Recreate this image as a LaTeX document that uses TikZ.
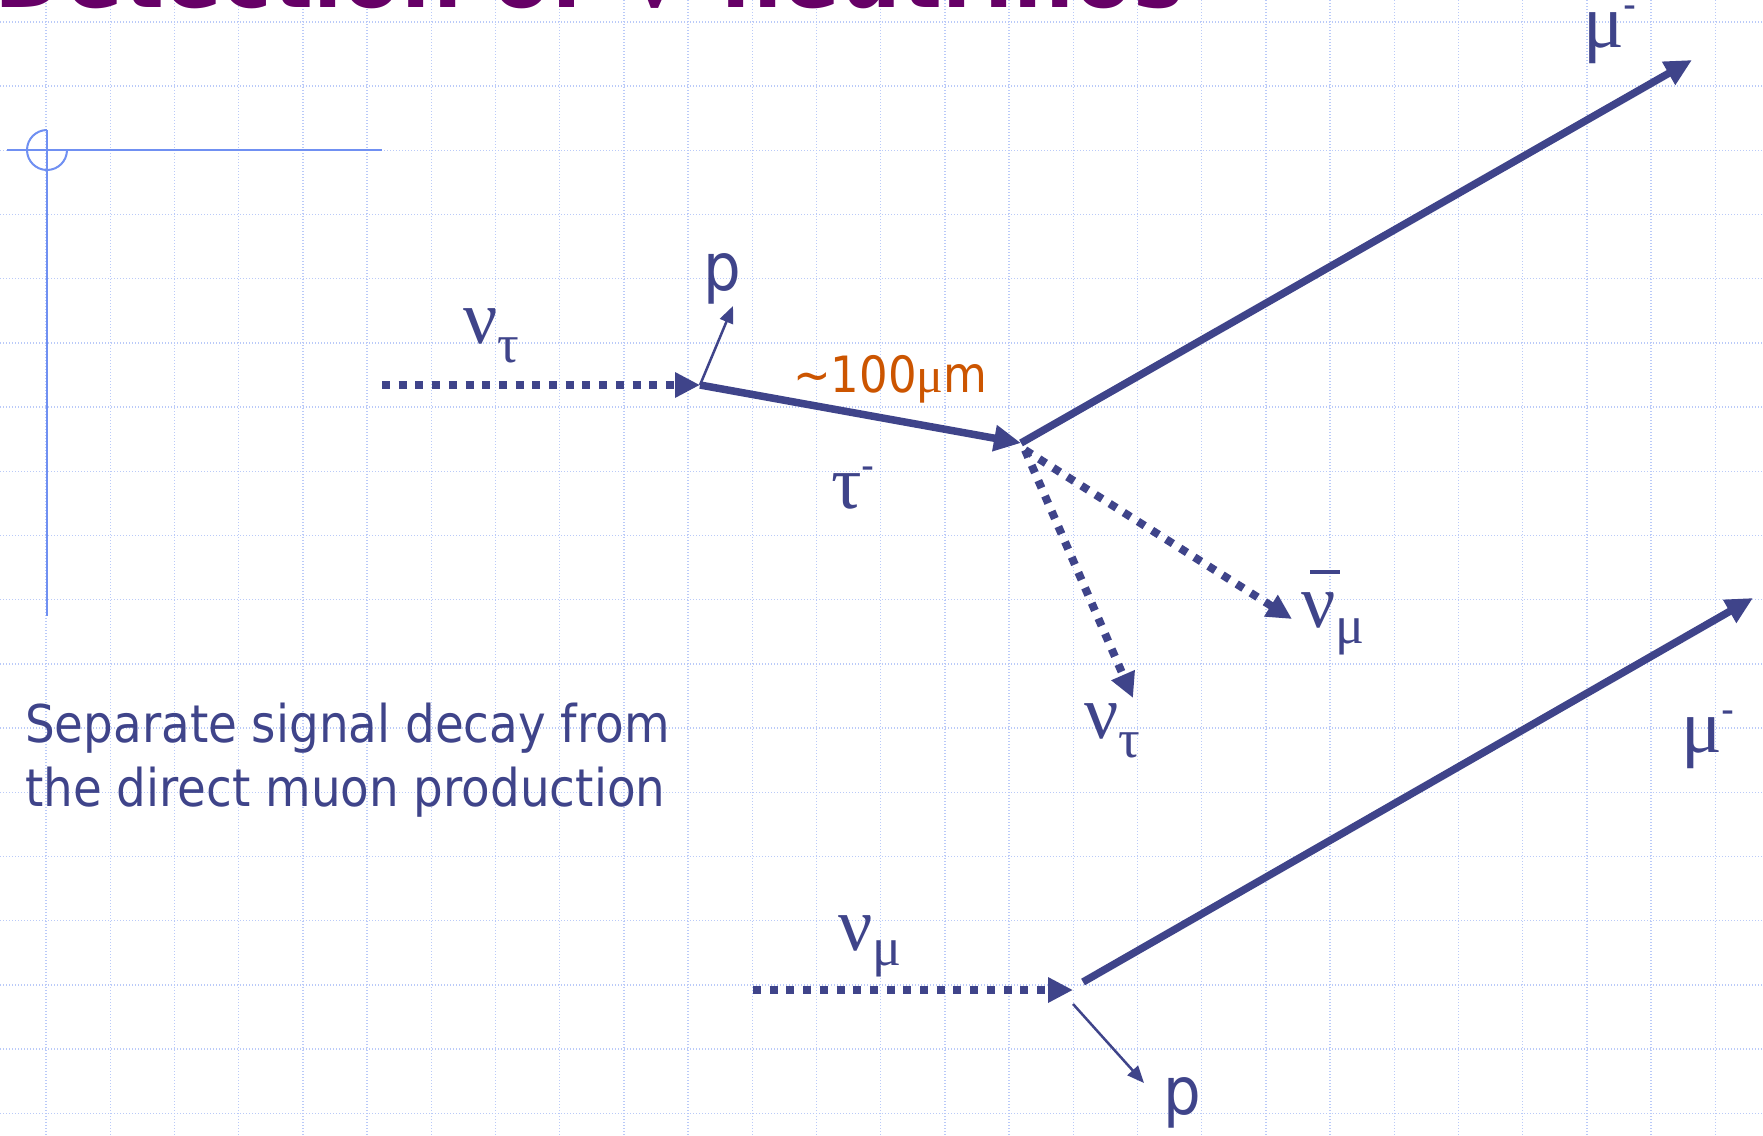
\documentclass[tikz,border=0pt]{standalone}
\usepackage{fontspec}
\usepackage{tikz}
\usetikzlibrary{arrows.meta}
\newfontfamily\slidefont[FakeStretch=0.9]{DejaVu Sans}
\newfontfamily\greekfont{Liberation Serif}
\definecolor{slideInk}{HTML}{3F448A}
\definecolor{slideGrid}{HTML}{BACAF8}
\definecolor{slideGuide}{HTML}{7090F2}
\definecolor{slideOrange}{HTML}{CC5500}
\definecolor{slideTitle}{HTML}{660066}
\newcommand{\bigsym}[1]{{\greekfont\fontsize{76}{76}\selectfont #1}}
\newcommand{\subsym}[2]{\raisebox{-#1pt}{\greekfont\fontsize{54}{54}\selectfont #2}}
\newcommand{\supminus}{\raisebox{29pt}{\slidefont\fontsize{40}{40}\selectfont -}}
\tikzset{
  track/.style={
    line width=7.5pt,
    draw=slideInk,
    -{Triangle[length=27pt,width=25pt]}
  },
  neutrino/.style={
    line width=8pt,
    draw=slideInk,
    dash pattern=on 8pt off 8.7pt,
    -{Triangle[length=25pt,width=24pt]}
  },
  recoil/.style={
    line width=2.5pt,
    draw=slideInk,
    -{Triangle[length=17pt,width=14pt]}
  },
  gridline/.style={
    draw=slideGrid,
    line width=1.4pt,
    dash pattern=on 1.4pt off 1.6pt
  },
  guide/.style={
    draw=slideGuide,
    line width=2pt
  },
  particle/.style={
    inner sep=0pt,
    anchor=base west,
    text=slideInk
  }
}

\begin{document}
\begin{tikzpicture}[x=1pt,y=-1pt]
  \path[use as bounding box,fill=white] (0,0) rectangle (1763,1135);
  \clip (0,0) rectangle (1763,1135);
  \foreach \k in {0,...,26}
    \draw[gridline] ({46.1+64.2*\k},0) -- ({46.1+64.2*\k},1135);
  \foreach \k in {0,...,17}
    \draw[gridline] (0,{21.9+64.2*\k}) -- (1763,{21.9+64.2*\k});
  \draw[guide] (67,150) arc[start angle=0,end angle=270,radius=20];
  \draw[guide] (47,130) -- (47,616);
  \draw[guide] (7,150) -- (382,150);
  \node[anchor=base west,inner sep=0pt,text=slideTitle,font=\slidefont\bfseries\fontsize{95}{95}\selectfont] (title) at (-6,7) {Detection of\, {\greekfont ν}\, neutrinos};

  \coordinate (tauStart) at (382,385);
  \coordinate (prodVtx) at (700,385);
  \coordinate (pUpTip) at (733,306);
  \coordinate (decayVtx) at (1021,443);
  \coordinate (decayOut) at (1025,450);
  \coordinate (muUpTip) at (1692,60);
  \coordinate (nuBarTip) at (1292,619);
  \coordinate (nuTauTip) at (1133,698);
  \coordinate (numuStart) at (753,990);
  \coordinate (directVtx) at (1073,990);
  \coordinate (muLowStart) at (1083,982);
  \coordinate (muLowTip) at (1753,598);
  \coordinate (pLowStart) at (1073,1004);
  \coordinate (pLowTip) at (1144,1083);

  \draw[neutrino] (tauStart) -- (prodVtx);
  \draw[recoil] (prodVtx) -- (pUpTip);
  \draw[track] (prodVtx) -- (decayVtx);
  \draw[track] (decayVtx) -- (muUpTip);
  \draw[neutrino] (decayOut) -- (nuBarTip);
  \draw[neutrino] (decayOut) -- (nuTauTip);
  \draw[neutrino] (numuStart) -- (directVtx);
  \draw[track] (muLowStart) -- (muLowTip);
  \draw[recoil] (pLowStart) -- (pLowTip);

  \node[particle] (nuTauIn) at (463,343) {\bigsym{ν}\subsym{19}{τ}};
  \node[particle,font=\slidefont\fontsize{66}{66}\selectfont] (pUp) at (703,290) {p};
  \node[particle,text=slideOrange,font=\slidefont\fontsize{50}{50}\selectfont] (flightLen) at (793,392) {\textasciitilde100{\greekfont μ}m};
  \node[particle] (tauLabel) at (831,508) {\bigsym{τ}\supminus};
  \node[particle] (muUp) at (1583,47) {\bigsym{μ}\supminus};
  \node[particle] (nuBar) at (1301,627) {\rlap{\hspace{9pt}\rule[53pt]{30pt}{4pt}}\bigsym{ν}\subsym{16}{μ}};
  \node[particle] (nuTauOut) at (1084,738) {\bigsym{ν}\subsym{19}{τ}};
  \node[particle] (muLow) at (1681,752) {\bigsym{μ}\supminus};
  \node[particle] (nuMu) at (838,950) {\bigsym{ν}\subsym{15}{μ}};
  \node[particle,font=\slidefont\fontsize{66}{66}\selectfont] (pLow) at (1163,1114) {p};
  \node[particle,align=left,font=\slidefont\fontsize{52}{64}\selectfont] (caption) at (25,806) {Separate signal decay from\\the direct muon production};
\end{tikzpicture}
\end{document}
